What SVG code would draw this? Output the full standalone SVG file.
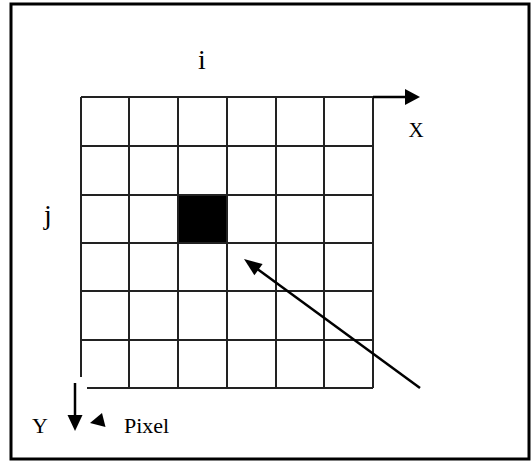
<svg xmlns="http://www.w3.org/2000/svg" width="531" height="461" viewBox="0 0 531 461">
<style>
.grid{stroke:#222;stroke-width:2;fill:none}
.ax{stroke:#000;stroke-width:2.5;fill:none}
.hd{fill:#000;stroke:none}
.t{font-family:"Liberation Serif","Times New Roman",serif;fill:#000}
</style>
<rect width="531" height="461" fill="#fff"/>
<rect x="11" y="4" width="518" height="455" fill="none" stroke="#000" stroke-width="3"/>
<g id="grid">
<rect id="pixel-cell" x="178" y="195" width="49" height="48" fill="#000"/>
<path class="grid" d="M81 97H373M81 146H373M81 195H373M81 243H373M81 291H373M81 340H373M87 388H373"/>
<path class="grid" d="M81 97V377M129 97V388M178 97V388M227 97V388M276 97V388M324 97V388M373 97V388"/>
</g>
<g id="connectors">
<path class="ax" d="M373 97H406"/>
<polygon class="hd" points="405,89 420,97 405,105"/>
<path class="ax" d="M75 383V416"/>
<polygon class="hd" points="67.5,415 82.5,415 75,431"/>
<path class="ax" d="M420 388L256 268"/>
<polygon class="hd" points="244,259 262.6,264.1 254.4,275.3"/>
<polygon class="hd" points="90,423 102,413 105.5,427"/>
</g>
<g id="labels">
<text class="t" x="202" y="69" font-size="28" text-anchor="middle">i</text>
<text class="t" x="48" y="224" font-size="28" text-anchor="middle">j</text>
<text class="t" x="416" y="137" font-size="21" text-anchor="middle">X</text>
<text class="t" x="40" y="433" font-size="22" text-anchor="middle">Y</text>
<text class="t" x="124" y="433" font-size="22">Pixel</text>
</g>
</svg>
